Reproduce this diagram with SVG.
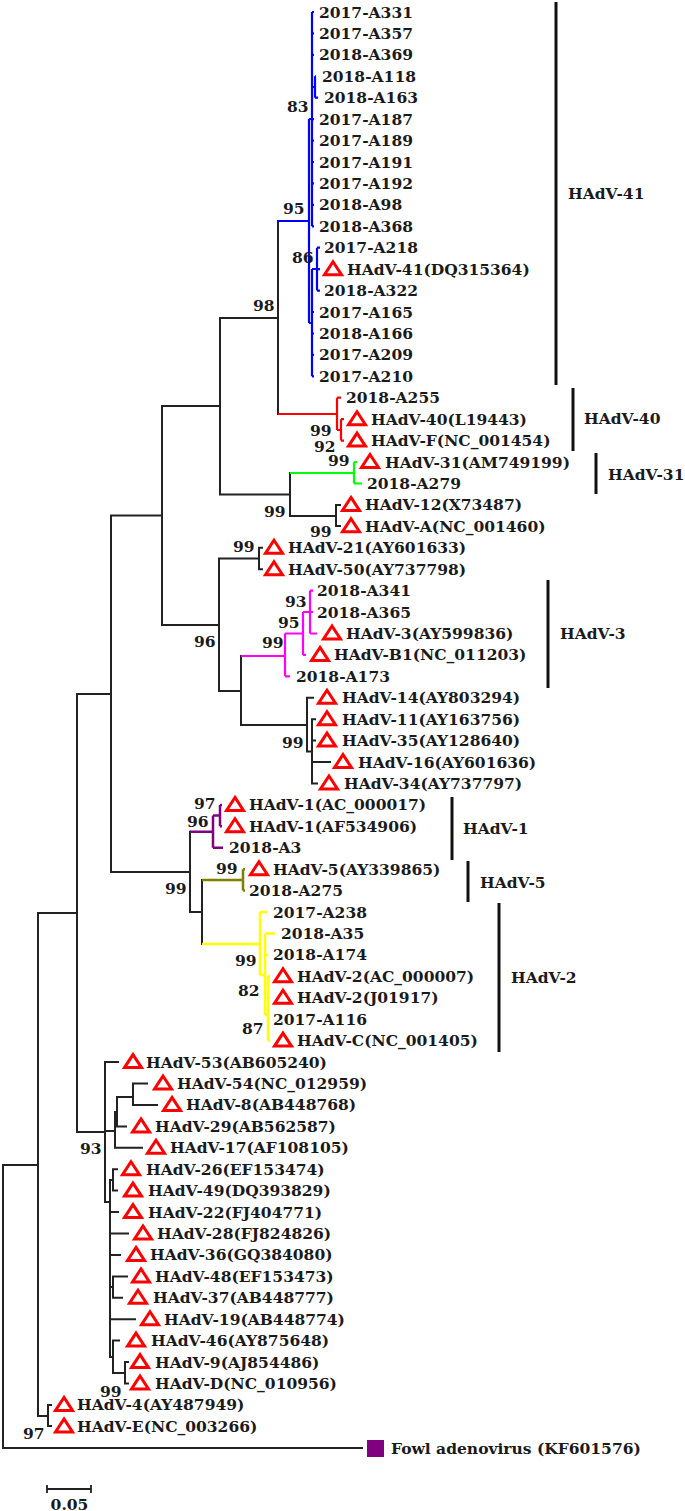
<svg xmlns="http://www.w3.org/2000/svg" xmlns:xlink="http://www.w3.org/1999/xlink" width="685" height="1511" viewBox="0 0 685 1511">
<style>
text{font-family:"DejaVu Serif","Liberation Serif",serif;font-weight:bold;font-size:15.5px;fill:#1a1a1a}
.br{fill:none;stroke:#222;stroke-width:2;stroke-linecap:square}
.bl{fill:none;stroke:#0000ff;stroke-width:2.2}
.rd{fill:none;stroke:#ff0000;stroke-width:2.2}
.gn{fill:none;stroke:#00ff00;stroke-width:2.2}
.mg{fill:none;stroke:#ff00ff;stroke-width:2.2}
.pp{fill:none;stroke:#800080;stroke-width:2.5}
.ol{fill:none;stroke:#808000;stroke-width:2.5}
.yl{fill:none;stroke:#ffff00;stroke-width:2.5}
.bar{stroke:#111;stroke-width:3}
.tri{fill:#fff;stroke:#ff0000;stroke-width:3}
</style>
<defs>
<path id="t" d="M10,-7.5 L18.5,5.5 L1.5,5.5 Z"/>
</defs>
<rect width="685" height="1511" fill="#fff"/>
<g id="connectors">
<path class="br" d="M3,1165V1448H362M3,1165H38M38,913V1416M38,913H77M38,1416H48M48,1405V1426M48,1405H51M48,1426H51
M77,694V1132M77,694H111M77,1132H105M111,515.5V872M111,515.5H162M111,872H190M162,406V625M162,406H220M162,625H219
M220,318V494.5M220,318H278M220,494.5H290M278,221V414M290,473V516M290,516H336M336,505V526M336,505H340M336,526H340
M219,558.5V691M219,558.5H259M219,691H241M259,547.8V569.2M259,547.8H262M259,569.2H262M241,656V725M241,725H307
M307,697.8V751.4M307,697.8H313M307,751.4H312M312,719.2V783.5M312,719.2H315M312,740.6H315M312,762.1H330M312,783.5H317
M190,831.7V912M190,912H202M202,880V944
M105,1062.1V1202M105,1062.1H118M105,1131H115M115,1112V1147.8M115,1147.8H142M115,1112H117M117,1097V1126.4M117,1126.4H126M117,1097H133M133,1083.5V1104.9M133,1083.5H147M133,1104.9H157
M105,1202H110M110,1180V1357M110,1180H113M113,1169.2V1190.6M113,1169.2H117M113,1190.6H117M110,1212.1H118M110,1233.5H128M110,1254.9H120M110,1287H113M113,1276.4V1297.8M113,1276.4H127M113,1297.8H122M110,1319.2H135M110,1357H113M113,1340.6V1373M113,1340.6H119M113,1373H125M125,1362.1V1383.5M125,1362.1H128M125,1383.5H128"/>
<path class="bl" d="M278,221H309M309,119V323M309,119H312M312,12V226.3M312,12H314M312,33.4H314M312,54.9H314M312,119.2H314M312,140.6H314M312,162H314M312,183.4H314M312,204.9H314M312,226.3H314M312,87H315M315,76.3V97.7M315,76.3H316M315,97.7H318
M309,323H312M312,269V376.3M312,312H314M312,333.5H314M312,354.9H314M312,376.3H314M312,269H317M317,247.7V290.6M317,247.7H320M317,269.2H320M317,290.6H320"/>
<path class="rd" d="M278,414H337M337,397.7V430M337,397.7H341M337,430H341M341,419.2V440.6M341,419.2H344M341,440.6H344"/>
<path class="gn" d="M290,473H354M354,462V483.5M354,462H357M354,483.5H362"/>
<path class="mg" d="M241,656H285M285,633.5V676.3M285,676.3H290M285,633.5H303M303,612V654.9M303,654.9H306M303,612H310M310,590.6V633.5M310,590.6H313M310,612H313M310,633.5H317"/>
<path class="pp" d="M190,831.7H213M213,815.6V847.8M213,847.8H223M213,815.6H220M220,804.9V826.3M220,804.9H222M220,826.3H222"/>
<path class="ol" d="M202,880H243M243,869.2V890.6M243,869.2H245M243,890.6H245"/>
<path class="yl" d="M202,944H260M260,912.1V975M260,912.1H267M260,975H265M265,933.5V1015M265,933.5H275M265,954.9H268M265,1015H268M268,976.3V1040.6M268,976.3H270M268,997.8H270M268,1019.2H270M268,1040.6H270"/>
</g>
<g id="leaves">
<g id="n0"><text x="319" y="17.5">2017-A331</text></g>
<g id="n1"><text x="319" y="38.9">2017-A357</text></g>
<g id="n2"><text x="319" y="60.4">2018-A369</text></g>
<g id="n3"><text x="322" y="81.8">2018-A118</text></g>
<g id="n4"><text x="324" y="103.2">2018-A163</text></g>
<g id="n5"><text x="319" y="124.7">2017-A187</text></g>
<g id="n6"><text x="319" y="146.1">2017-A189</text></g>
<g id="n7"><text x="319" y="167.5">2017-A191</text></g>
<g id="n8"><text x="319" y="188.9">2017-A192</text></g>
<g id="n9"><text x="319" y="210.4">2018-A98</text></g>
<g id="n10"><text x="319" y="231.8">2018-A368</text></g>
<g id="n11"><text x="324" y="253.2">2017-A218</text></g>
<g id="n12"><use xlink:href="#t" href="#t" class="tri" x="323" y="269.2"/><text x="347" y="274.7">HAdV-41(DQ315364)</text></g>
<g id="n13"><text x="324" y="296.1">2018-A322</text></g>
<g id="n14"><text x="319" y="317.5">2017-A165</text></g>
<g id="n15"><text x="319" y="339">2018-A166</text></g>
<g id="n16"><text x="319" y="360.4">2017-A209</text></g>
<g id="n17"><text x="319" y="381.8">2017-A210</text></g>
<g id="n18"><text x="346" y="403.2">2018-A255</text></g>
<g id="n19"><use xlink:href="#t" href="#t" class="tri" x="347" y="419.2"/><text x="371" y="424.7">HAdV-40(L19443)</text></g>
<g id="n20"><use xlink:href="#t" href="#t" class="tri" x="347" y="440.6"/><text x="371" y="446.1">HAdV-F(NC_001454)</text></g>
<g id="n21"><use xlink:href="#t" href="#t" class="tri" x="360" y="462"/><text x="385" y="467.5">HAdV-31(AM749199)</text></g>
<g id="n22"><text x="367" y="489">2018-A279</text></g>
<g id="n23"><use xlink:href="#t" href="#t" class="tri" x="341" y="504.9"/><text x="365" y="510.4">HAdV-12(X73487)</text></g>
<g id="n24"><use xlink:href="#t" href="#t" class="tri" x="341" y="526.3"/><text x="365" y="531.8">HAdV-A(NC_001460)</text></g>
<g id="n25"><use xlink:href="#t" href="#t" class="tri" x="264" y="547.8"/><text x="288" y="553.3">HAdV-21(AY601633)</text></g>
<g id="n26"><use xlink:href="#t" href="#t" class="tri" x="264" y="569.2"/><text x="288" y="574.7">HAdV-50(AY737798)</text></g>
<g id="n27"><text x="317" y="596.1">2018-A341</text></g>
<g id="n28"><text x="317" y="617.5">2018-A365</text></g>
<g id="n29"><use xlink:href="#t" href="#t" class="tri" x="322" y="633.5"/><text x="346" y="639">HAdV-3(AY599836)</text></g>
<g id="n30"><use xlink:href="#t" href="#t" class="tri" x="310" y="654.9"/><text x="334" y="660.4">HAdV-B1(NC_011203)</text></g>
<g id="n31"><text x="296" y="681.8">2018-A173</text></g>
<g id="n32"><use xlink:href="#t" href="#t" class="tri" x="317" y="697.8"/><text x="342" y="703.3">HAdV-14(AY803294)</text></g>
<g id="n33"><use xlink:href="#t" href="#t" class="tri" x="317" y="719.2"/><text x="342" y="724.7">HAdV-11(AY163756)</text></g>
<g id="n34"><use xlink:href="#t" href="#t" class="tri" x="317" y="740.6"/><text x="342" y="746.1">HAdV-35(AY128640)</text></g>
<g id="n35"><use xlink:href="#t" href="#t" class="tri" x="333" y="762.1"/><text x="358" y="767.6">HAdV-16(AY601636)</text></g>
<g id="n36"><use xlink:href="#t" href="#t" class="tri" x="319" y="783.5"/><text x="344" y="789">HAdV-34(AY737797)</text></g>
<g id="n37"><use xlink:href="#t" href="#t" class="tri" x="225" y="804.9"/><text x="249" y="810.4">HAdV-1(AC_000017)</text></g>
<g id="n38"><use xlink:href="#t" href="#t" class="tri" x="225" y="826.3"/><text x="249" y="831.8">HAdV-1(AF534906)</text></g>
<g id="n39"><text x="229" y="853.3">2018-A3</text></g>
<g id="n40"><use xlink:href="#t" href="#t" class="tri" x="249" y="869.2"/><text x="273" y="874.7">HAdV-5(AY339865)</text></g>
<g id="n41"><text x="249" y="896.1">2018-A275</text></g>
<g id="n42"><text x="273" y="917.6">2017-A238</text></g>
<g id="n43"><text x="281" y="939">2018-A35</text></g>
<g id="n44"><text x="273" y="960.4">2018-A174</text></g>
<g id="n45"><use xlink:href="#t" href="#t" class="tri" x="273" y="976.3"/><text x="297" y="981.8">HAdV-2(AC_000007)</text></g>
<g id="n46"><use xlink:href="#t" href="#t" class="tri" x="273" y="997.8"/><text x="297" y="1003.3">HAdV-2(J01917)</text></g>
<g id="n47"><text x="273" y="1024.7">2017-A116</text></g>
<g id="n48"><use xlink:href="#t" href="#t" class="tri" x="273" y="1040.6"/><text x="297" y="1046.1">HAdV-C(NC_001405)</text></g>
<g id="n49"><use xlink:href="#t" href="#t" class="tri" x="123" y="1062.1"/><text x="146" y="1067.6">HAdV-53(AB605240)</text></g>
<g id="n50"><use xlink:href="#t" href="#t" class="tri" x="153" y="1083.5"/><text x="177" y="1089">HAdV-54(NC_012959)</text></g>
<g id="n51"><use xlink:href="#t" href="#t" class="tri" x="162" y="1104.9"/><text x="186" y="1110.4">HAdV-8(AB448768)</text></g>
<g id="n52"><use xlink:href="#t" href="#t" class="tri" x="131" y="1126.4"/><text x="155" y="1131.9">HAdV-29(AB562587)</text></g>
<g id="n53"><use xlink:href="#t" href="#t" class="tri" x="146" y="1147.8"/><text x="170" y="1153.3">HAdV-17(AF108105)</text></g>
<g id="n54"><use xlink:href="#t" href="#t" class="tri" x="121" y="1169.2"/><text x="146" y="1174.7">HAdV-26(EF153474)</text></g>
<g id="n55"><use xlink:href="#t" href="#t" class="tri" x="123" y="1190.6"/><text x="148" y="1196.1">HAdV-49(DQ393829)</text></g>
<g id="n56"><use xlink:href="#t" href="#t" class="tri" x="123" y="1212.1"/><text x="148" y="1217.6">HAdV-22(FJ404771)</text></g>
<g id="n57"><use xlink:href="#t" href="#t" class="tri" x="133" y="1233.5"/><text x="157" y="1239">HAdV-28(FJ824826)</text></g>
<g id="n58"><use xlink:href="#t" href="#t" class="tri" x="126" y="1254.9"/><text x="150" y="1260.4">HAdV-36(GQ384080)</text></g>
<g id="n59"><use xlink:href="#t" href="#t" class="tri" x="131" y="1276.4"/><text x="155" y="1281.9">HAdV-48(EF153473)</text></g>
<g id="n60"><use xlink:href="#t" href="#t" class="tri" x="128" y="1297.8"/><text x="153" y="1303.3">HAdV-37(AB448777)</text></g>
<g id="n61"><use xlink:href="#t" href="#t" class="tri" x="140" y="1319.2"/><text x="164" y="1324.7">HAdV-19(AB448774)</text></g>
<g id="n62"><use xlink:href="#t" href="#t" class="tri" x="126" y="1340.6"/><text x="151" y="1346.1">HAdV-46(AY875648)</text></g>
<g id="n63"><use xlink:href="#t" href="#t" class="tri" x="130" y="1362.1"/><text x="155" y="1367.6">HAdV-9(AJ854486)</text></g>
<g id="n64"><use xlink:href="#t" href="#t" class="tri" x="130" y="1383.5"/><text x="155" y="1389">HAdV-D(NC_010956)</text></g>
<g id="n65"><use xlink:href="#t" href="#t" class="tri" x="54" y="1404.9"/><text x="77" y="1410.4">HAdV-4(AY487949)</text></g>
<g id="n66"><use xlink:href="#t" href="#t" class="tri" x="54" y="1426.4"/><text x="77" y="1431.9">HAdV-E(NC_003266)</text></g>
<g id="n67"><rect x="367" y="1440" width="17" height="17" fill="#800080"/><text x="391" y="1453.5">Fowl adenovirus (KF601576)</text></g>
</g>
<g id="bootstrap">
<text x="287" y="111.5">83</text>
<text x="283" y="213.5">95</text>
<text x="292" y="262.5">86</text>
<text x="253" y="310.5">98</text>
<text x="310" y="436">99</text>
<text x="314" y="452">92</text>
<text x="328" y="465.5">99</text>
<text x="264" y="516.5">99</text>
<text x="310" y="536.5">99</text>
<text x="233" y="551.5">99</text>
<text x="285" y="606.5">93</text>
<text x="278" y="627.5">95</text>
<text x="262" y="647.5">99</text>
<text x="194" y="646.5">96</text>
<text x="282" y="747.5">99</text>
<text x="194" y="808.5">97</text>
<text x="187" y="826.5">96</text>
<text x="216" y="873.5">99</text>
<text x="165" y="894">99</text>
<text x="235" y="965.5">99</text>
<text x="238" y="995.5">82</text>
<text x="242" y="1033.5">87</text>
<text x="80" y="1153.5">93</text>
<text x="100" y="1397">99</text>
<text x="23" y="1438.5">97</text>
</g>
<g id="clades">
<line class="bar" x1="556" y1="2" x2="556" y2="385"/><text x="568" y="199">HAdV-41</text>
<line class="bar" x1="573" y1="388" x2="573" y2="451"/><text x="584" y="423.5">HAdV-40</text>
<line class="bar" x1="596" y1="453" x2="596" y2="494"/><text x="608" y="479.5">HAdV-31</text>
<line class="bar" x1="548" y1="580" x2="548" y2="688"/><text x="560" y="638.5">HAdV-3</text>
<line class="bar" x1="452" y1="797" x2="452" y2="860"/><text x="463" y="833.5">HAdV-1</text>
<line class="bar" x1="468" y1="861" x2="468" y2="902"/><text x="480" y="887.5">HAdV-5</text>
<line class="bar" x1="499" y1="903" x2="499" y2="1052"/><text x="511" y="982.5">HAdV-2</text>
</g>
<g id="scale">
<path class="br" d="M47,1489H91M47,1485V1493M91,1485V1493" style="stroke-linecap:butt;stroke-width:1.8"/>
<text x="69.5" y="1510" text-anchor="middle">0.05</text>
</g>
</svg>
